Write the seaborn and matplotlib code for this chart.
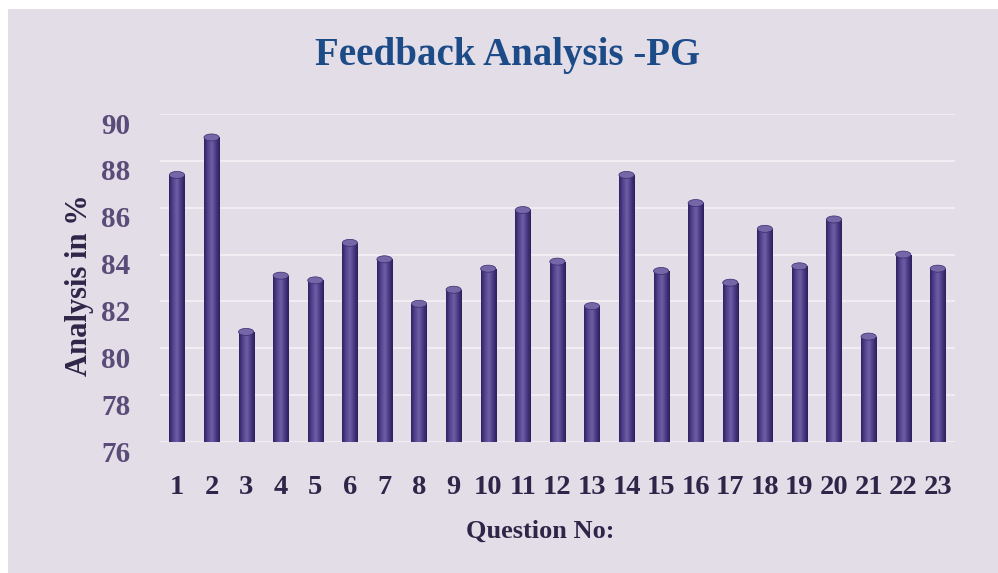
import numpy as np
import pandas as pd
import matplotlib.pyplot as plt
import matplotlib.transforms as mtransforms
from matplotlib.patches import Ellipse, Rectangle
from matplotlib.colors import LinearSegmentedColormap
import seaborn as sns

# data
questions = [str(i) for i in range(1, 24)]
scores = [87.4, 89.0, 80.7, 83.1, 82.9, 84.5, 83.8, 81.9, 82.5, 83.4,
          85.9, 83.7, 81.8, 87.4, 83.3, 86.2, 82.8, 85.1, 83.5, 85.5,
          80.5, 84.0, 83.4]
y_ticks = [76, 78, 80, 82, 84, 86, 88, 90]

df = pd.DataFrame({"question": questions, "score": scores})

sns.set_style("white")
plt.rcParams['font.family'] = ['Liberation Serif', 'DejaVu Serif']

bg = "#e3dde8"
fig = plt.figure(figsize=(9.98, 5.73), dpi=100, facecolor="white")
fig.patches.append(Rectangle((0.008, 0), 0.992, 0.985, transform=fig.transFigure,
                             facecolor=bg, edgecolor="none", zorder=-10))
ax = fig.add_axes([0.160, 0.2286, 0.797, 0.5724])
ax.set_facecolor("none")
ax.set_zorder(1)

sns.barplot(data=df, x="question", y="score", width=0.44, color="#4b3a85",
            linewidth=0, ax=ax, zorder=3)

ax.set_ylim(76, 90)
ax.set_xlim(-0.5, len(questions) - 0.5)

# cylinder look: horizontal gradient clipped to each bar, plus a top cap
cyl = LinearSegmentedColormap.from_list("cyl", ["#2f2160", "#54448f", "#6e5fa6", "#4a3a84", "#2c1e5a"])
grad = np.linspace(0, 1, 64).reshape(1, -1)
for p in list(ax.patches):
    x0 = p.get_x()
    w = p.get_width()
    top = p.get_y() + p.get_height()
    im = ax.imshow(grad, cmap=cyl, aspect="auto", extent=(x0, x0 + w, 76, top),
                   zorder=4, interpolation="bicubic")
    im.set_clip_path(p)
    ax.add_patch(Ellipse((x0 + w / 2, top), w, 0.3, facecolor="#7566a8",
                         edgecolor="#3a2b6e", linewidth=0.5, zorder=5))

ax.set_ylim(76, 90)
ax.set_xlim(-0.5, len(questions) - 0.5)
ax.set_yticks(y_ticks)
ax.grid(axis="y", color="#f3f0f5", linewidth=1.3, zorder=1)
ax.grid(axis="x", visible=False)
for s in ax.spines.values():
    s.set_visible(False)

ax.tick_params(axis="y", length=0, pad=21, labelsize=21, labelcolor="#5a4c78")
ax.tick_params(axis="x", length=0, pad=24, labelsize=20.5, labelcolor="#2e2648")
for lab in ax.get_yticklabels():
    lab.set_fontweight("bold")
    lab.set_transform(lab.get_transform() + mtransforms.ScaledTranslation(0, -9 / 100, fig.dpi_scale_trans))
for lab in ax.get_xticklabels():
    lab.set_fontweight("bold")

ax.set_xlabel("")
ax.set_ylabel("")

fig.text(508 / 998, 1 - 55 / 573, "Feedback Analysis -PG", ha="center", va="center",
         fontsize=28, fontweight="bold", color="#1c4b88")
fig.text(79 / 998, 1 - 285 / 573, "Analysis in %", ha="center", va="center", rotation=90,
         fontsize=22, fontweight="bold", color="#2e2648")
fig.text(540 / 998, 1 - 531 / 573, "Question No:", ha="center", va="center",
         fontsize=19, fontweight="bold", color="#2e2648")

fig.savefig("out.png", dpi=100, facecolor=fig.get_facecolor())
